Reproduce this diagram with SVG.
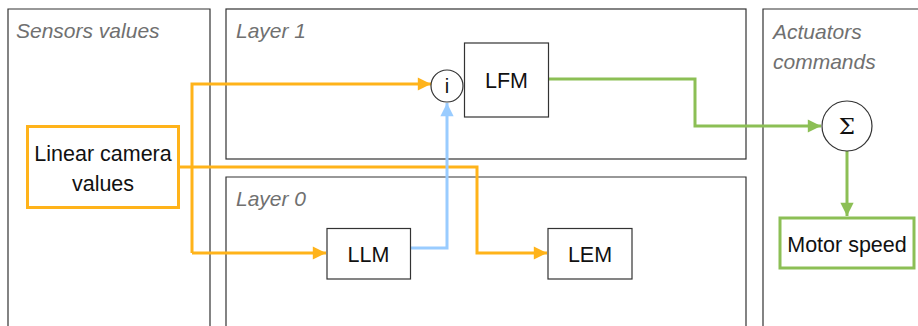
<svg xmlns="http://www.w3.org/2000/svg" width="918" height="326" viewBox="0 0 918 326">
<style>
.panel{fill:none;stroke:#333333;stroke-width:1.2}
.plabel{font-family:"Liberation Sans",Arial,sans-serif;font-style:italic;font-size:21px;fill:#707070}
.box{fill:#ffffff;stroke:#333333;stroke-width:1.2}
.txt{font-family:"Liberation Sans",Arial,sans-serif;font-size:21.5px;fill:#111111;text-anchor:middle}
.orange{fill:none;stroke:#FFB31A;stroke-width:3}
.blue{fill:none;stroke:#99CCFF;stroke-width:3}
.green{fill:none;stroke:#8CBF55;stroke-width:3}
</style>
<defs>
<marker id="ao" viewBox="0 0 10 10" refX="10" refY="5" markerWidth="5" markerHeight="4.4" orient="auto" markerUnits="strokeWidth"><path d="M0,0 L10,5 L0,10 Z" fill="#FFB31A"/></marker>
<marker id="ab" viewBox="0 0 10 10" refX="10" refY="5" markerWidth="5" markerHeight="4.4" orient="auto" markerUnits="strokeWidth"><path d="M0,0 L10,5 L0,10 Z" fill="#99CCFF"/></marker>
<marker id="ag" viewBox="0 0 10 10" refX="10" refY="5" markerWidth="5" markerHeight="4.4" orient="auto" markerUnits="strokeWidth"><path d="M0,0 L10,5 L0,10 Z" fill="#8CBF55"/></marker>
</defs>
<rect width="918" height="326" fill="#ffffff"/>
<g id="panel-sensors">
<path class="panel" d="M8,330 V9 H210 V330"/>
<text class="plabel" x="16" y="38">Sensors values</text>
</g>
<g id="panel-layer1">
<rect class="panel" x="226" y="9" width="520" height="150"/>
<text class="plabel" x="236" y="38">Layer 1</text>
</g>
<g id="panel-layer0">
<path class="panel" d="M226,330 V177 H746 V330"/>
<text class="plabel" x="236" y="206">Layer 0</text>
</g>
<g id="panel-actuators">
<path class="panel" d="M763,330 V9 H920"/>
<text class="plabel" x="773" y="39">Actuators</text>
<text class="plabel" x="773" y="69">commands</text>
</g>
<g id="connectors">
<path class="orange" d="M192,253 V84 H431" marker-end="url(#ao)"/>
<path class="orange" d="M192,253 H326" marker-end="url(#ao)"/>
<path class="orange" d="M179,167 H477 V253 H547" marker-end="url(#ao)"/>
<path class="blue" d="M411,248 H447 V103" marker-end="url(#ab)"/>
<path class="green" d="M549,79 H695 V126 H821" marker-end="url(#ag)"/>
<path class="green" d="M847,151 V216" marker-end="url(#ag)"/>
</g>
<g id="node-camera">
<rect x="27.5" y="126.5" width="151" height="81" fill="#ffffff" stroke="#FFB31A" stroke-width="3"/>
<text class="txt" x="103" y="161">Linear camera</text>
<text class="txt" x="103" y="191">values</text>
</g>
<g id="node-i">
<circle cx="447" cy="86" r="16" fill="#ffffff" stroke="#333333" stroke-width="1.2"/>
<text class="txt" x="447" y="93" style="font-size:20px">i</text>
</g>
<g id="node-lfm">
<rect class="box" x="464.5" y="43" width="84" height="74"/>
<text class="txt" x="506.5" y="88">LFM</text>
</g>
<g id="node-llm">
<rect class="box" x="327" y="228.5" width="83.5" height="50.5"/>
<text class="txt" x="368.5" y="262">LLM</text>
</g>
<g id="node-lem">
<rect class="box" x="548" y="228.5" width="84" height="50.5"/>
<text class="txt" x="590" y="262">LEM</text>
</g>
<g id="node-sum">
<circle cx="847" cy="126" r="25" fill="#ffffff" stroke="#333333" stroke-width="1.2"/>
<text class="txt" x="847" y="134" style="font-size:23px;font-family:'DejaVu Serif',serif">Σ</text>
</g>
<g id="node-motor">
<rect x="780" y="218" width="134" height="50" fill="#ffffff" stroke="#8CBF55" stroke-width="3"/>
<text class="txt" x="847" y="252">Motor speed</text>
</g>
</svg>
